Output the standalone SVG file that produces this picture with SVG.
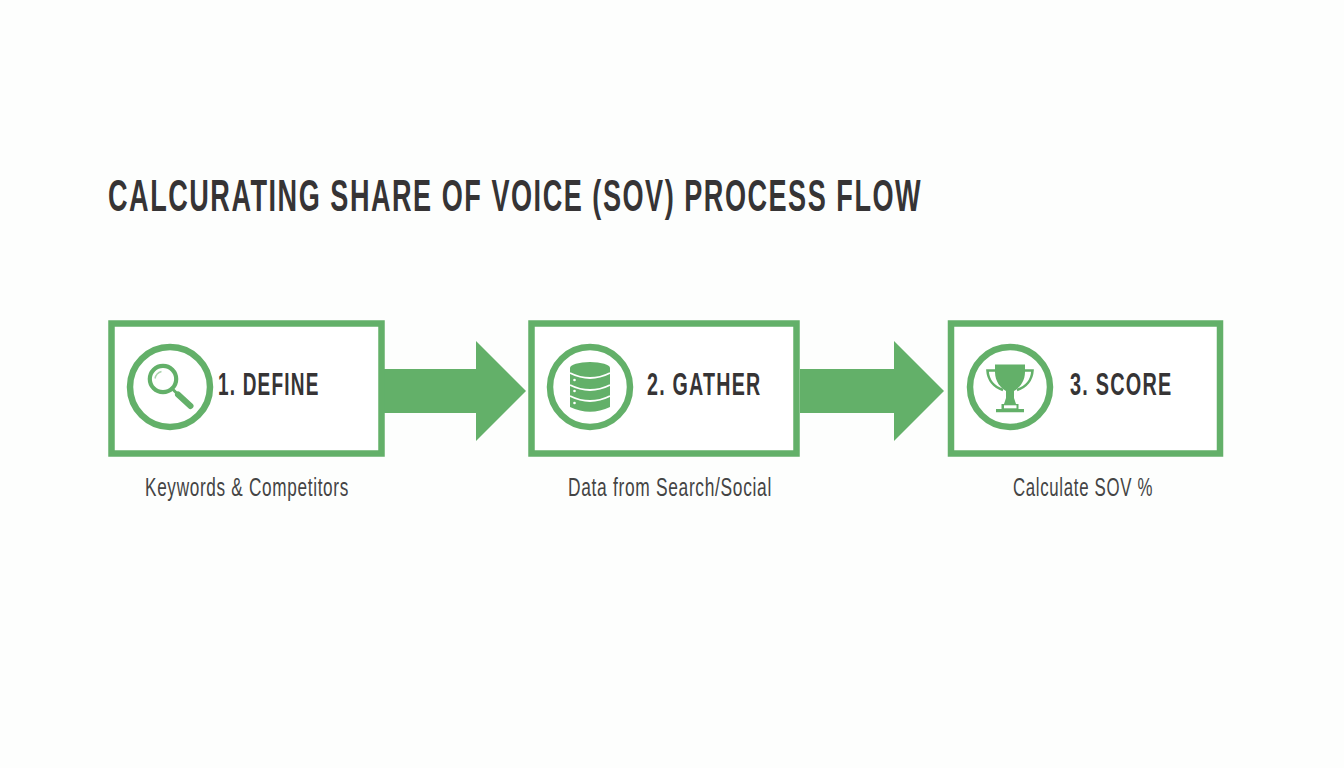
<svg xmlns="http://www.w3.org/2000/svg" width="1344" height="768" viewBox="0 0 1344 768">
<style>
.box{fill:#fff;stroke:#63b069;stroke-width:6.5}
.ring{fill:#fff;stroke:#63b069;stroke-width:6.5}
.g{fill:#63b069}
.w{fill:#fff}
.gap{fill:none;stroke:#fff;stroke-width:1.900}
text{font-family:"Liberation Sans",Arial,sans-serif;fill:#363435}
.title{font-size:44px;font-weight:700;letter-spacing:2.500px}
.head{font-size:32px;font-weight:700;letter-spacing:2px}
.cap{font-size:25px;fill:#444;letter-spacing:1px}
</style>
<rect width="1344" height="768" fill="#fdfefd"/>
<g transform="translate(108 0) scale(0.7 1)"><text id="title" class="title" x="0" y="211" textLength="1163" lengthAdjust="spacingAndGlyphs">CALCURATING SHARE OF VOICE (SOV) PROCESS FLOW</text></g>
<g id="connectors">
<polygon class="g" points="384,369 476,369 476,341 526,391 476,441 476,413 384,413"/>
<polygon class="g" points="800,369 894,369 894,341 944,391 894,441 894,413 800,413"/>
</g>
<g id="node-define">
<rect class="box" x="111.500" y="323.500" width="270" height="130"/>
<circle class="ring" cx="170" cy="387" r="40"/>
<circle cx="163" cy="379" r="13.200" fill="none" stroke="#63b069" stroke-width="4.200"/>
<path d="M155 378.500A9 9 0 0 1 161.500 371.500" fill="none" stroke="#a9d4ac" stroke-width="1.400"/>
<path d="M172.500 389L178 394.500" stroke="#63b069" stroke-width="3" fill="none"/>
<path d="M178 394.500L190.500 406" stroke="#63b069" stroke-width="6" stroke-linecap="round" fill="none"/>
<text class="head" x="218" y="395" textLength="101.500" lengthAdjust="spacingAndGlyphs">1. DEFINE</text>
<text class="cap" x="145" y="496" textLength="204" lengthAdjust="spacingAndGlyphs">Keywords &amp; Competitors</text>
</g>
<g id="node-gather">
<rect class="box" x="531.500" y="323.500" width="265" height="130"/>
<circle class="ring" cx="590" cy="387" r="40"/>
<path class="g" d="M570 368A20 6 0 0 1 610 368V407Q590 416.500 570 407Z"/>
<path class="gap" d="M570 373Q590 383 610 373"/>
<path class="gap" d="M570 385Q590 395 610 385"/>
<path class="gap" d="M570 396Q590 406 610 396"/>
<circle class="w" cx="574.500" cy="380" r="1.300"/>
<circle class="w" cx="574.500" cy="391" r="1.300"/>
<circle class="w" cx="574.500" cy="403" r="1.300"/>
<text class="head" x="647" y="395" textLength="114.500" lengthAdjust="spacingAndGlyphs">2. GATHER</text>
<text class="cap" x="568" y="496" textLength="204" lengthAdjust="spacingAndGlyphs">Data from Search/Social</text>
</g>
<g id="node-score">
<rect class="box" x="951" y="323.500" width="269" height="130"/>
<circle class="ring" cx="1010" cy="387" r="40"/>
<path class="g" d="M995 364.500H1025V372C1025 382 1019 388 1014 391V398L1016 404H1004L1006 398V391C1001 388 995 382 995 372Z"/>
<path d="M996 370.500H987.500C988 380 994 387 1003 390M1024 370.500H1032.500C1032 380 1026 387 1017 390" fill="none" stroke="#63b069" stroke-width="2.600"/>
<path class="g" d="M1001.500 404H1018.500V409H1024V412.300H996V409H1001.500Z"/>
<rect class="w" x="1004" y="405.300" width="12.500" height="3"/>
<text class="head" x="1070" y="395" textLength="102.500" lengthAdjust="spacingAndGlyphs">3. SCORE</text>
<text class="cap" x="1013" y="496" textLength="140" lengthAdjust="spacingAndGlyphs">Calculate SOV %</text>
</g>
</svg>
